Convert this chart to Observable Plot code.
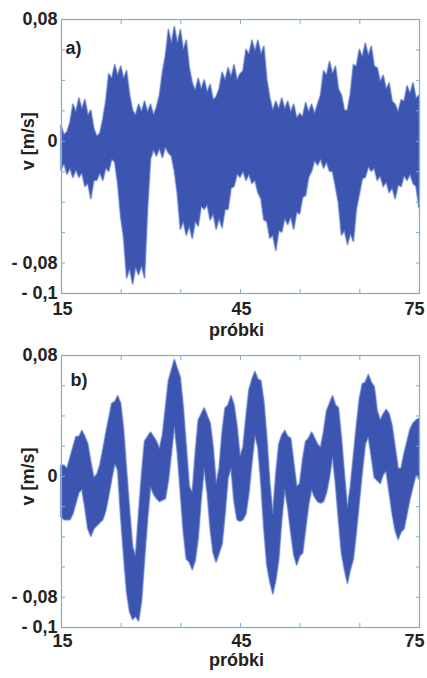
<!DOCTYPE html>
<html>
<head>
<meta charset="utf-8">
<script src="https://cdn.jsdelivr.net/npm/d3@7"></script>
<script src="https://cdn.jsdelivr.net/npm/@observablehq/plot@0.6"></script>
<style>
  body { margin: 0; background: #ffffff; }
  #chart svg { display: block; }
</style>
</head>
<body>
<div id="chart"></div>
<script>
// Sample index grid (half-sample resolution), shared by both panels
const samples = d3.range(15, 75.25, 0.5);

// Panel a) — raw velocity ensemble: upper and lower envelope of the traces [m/s]
const aHigh = [
  0.010, 0.004, 0.006, 0.012, 0.024, 0.019, 0.028, 0.021, 0.027, 0.017,
  0.020, 0.008, 0.003, 0.005, 0.014, 0.026, 0.044, 0.041, 0.050, 0.043,
  0.049, 0.041, 0.046, 0.030, 0.020, 0.017, 0.024, 0.019, 0.026, 0.019,
  0.024, 0.017, 0.022, 0.030, 0.045, 0.056, 0.073, 0.064, 0.075, 0.064,
  0.073, 0.060, 0.066, 0.048, 0.038, 0.033, 0.041, 0.034, 0.040, 0.032,
  0.037, 0.027, 0.029, 0.034, 0.045, 0.040, 0.048, 0.042, 0.050, 0.040,
  0.044, 0.046, 0.060, 0.057, 0.066, 0.059, 0.066, 0.057, 0.062, 0.040,
  0.028, 0.020, 0.026, 0.021, 0.028, 0.021, 0.026, 0.019, 0.024, 0.015,
  0.018, 0.016, 0.025, 0.019, 0.024, 0.018, 0.024, 0.030, 0.046, 0.043,
  0.052, 0.044, 0.049, 0.034, 0.030, 0.020, 0.020, 0.031, 0.050, 0.049,
  0.060, 0.055, 0.064, 0.056, 0.062, 0.049, 0.048, 0.039, 0.043, 0.034,
  0.038, 0.026, 0.024, 0.019, 0.027, 0.026, 0.036, 0.031, 0.038, 0.028,
  0.030
];
const aLow = [
  -0.019, -0.015, -0.022, -0.018, -0.024, -0.019, -0.024, -0.021, -0.030, -0.028,
  -0.038, -0.026, -0.026, -0.021, -0.026, -0.018, -0.020, -0.012, -0.014, -0.028,
  -0.050, -0.064, -0.090, -0.084, -0.094, -0.083, -0.088, -0.082, -0.090, -0.045,
  -0.012, -0.006, -0.010, -0.005, -0.011, -0.004, -0.008, -0.010, -0.020, -0.035,
  -0.058, -0.053, -0.062, -0.056, -0.064, -0.053, -0.056, -0.043, -0.045, -0.042,
  -0.052, -0.048, -0.058, -0.051, -0.057, -0.045, -0.045, -0.031, -0.030, -0.022,
  -0.024, -0.020, -0.026, -0.022, -0.028, -0.026, -0.034, -0.038, -0.052, -0.053,
  -0.064, -0.062, -0.072, -0.059, -0.060, -0.051, -0.055, -0.050, -0.058, -0.047,
  -0.048, -0.037, -0.036, -0.024, -0.020, -0.013, -0.016, -0.012, -0.018, -0.014,
  -0.020, -0.020, -0.030, -0.041, -0.062, -0.059, -0.068, -0.061, -0.066, -0.045,
  -0.035, -0.025, -0.024, -0.017, -0.020, -0.018, -0.026, -0.023, -0.030, -0.027,
  -0.034, -0.031, -0.038, -0.029, -0.030, -0.023, -0.026, -0.022, -0.028, -0.030,
  -0.044
];

// Panel b) — filtered velocity ensemble: upper and lower envelope [m/s]
const bHigh = [
  0.007, 0.007, 0.005, 0.012, 0.019, 0.026, 0.026, 0.030, 0.026, 0.021,
  0.009, -0.001, 0.001, 0.007, 0.017, 0.028, 0.038, 0.048, 0.049, 0.053,
  0.048, 0.030, 0.003, -0.023, -0.047, -0.053, -0.025, 0.001, 0.023, 0.026,
  0.029, 0.026, 0.023, 0.018, 0.027, 0.045, 0.063, 0.070, 0.077, 0.071,
  0.065, 0.045, 0.019, -0.007, -0.011, 0.015, 0.037, 0.041, 0.045, 0.040,
  0.035, 0.019, -0.005, 0.005, 0.029, 0.045, 0.047, 0.053, 0.047, 0.033,
  0.013, 0.019, 0.039, 0.057, 0.064, 0.069, 0.064, 0.063, 0.049, 0.025,
  -0.005, -0.025, 0.001, 0.021, 0.027, 0.030, 0.026, 0.025, 0.009, -0.007,
  -0.005, 0.011, 0.023, 0.025, 0.029, 0.025, 0.021, 0.019, 0.029, 0.043,
  0.048, 0.053, 0.047, 0.045, 0.025, 0.001, -0.021, -0.007, 0.013, 0.033,
  0.051, 0.061, 0.062, 0.067, 0.062, 0.059, 0.043, 0.037, 0.041, 0.044,
  0.041, 0.033, 0.019, 0.005, 0.005, 0.015, 0.023, 0.031, 0.035, 0.037,
  0.038
];
const bLow = [
  -0.027, -0.029, -0.029, -0.029, -0.025, -0.018, -0.011, -0.009, -0.021, -0.035,
  -0.040, -0.035, -0.033, -0.031, -0.029, -0.023, -0.013, -0.002, 0.008, 0.004,
  -0.027, -0.053, -0.077, -0.090, -0.095, -0.093, -0.096, -0.083, -0.055, -0.029,
  -0.007, -0.012, -0.015, -0.017, -0.016, -0.015, -0.003, 0.015, 0.033, 0.015,
  -0.011, -0.037, -0.055, -0.057, -0.062, -0.056, -0.041, -0.015, 0.005, -0.011,
  -0.035, -0.051, -0.057, -0.051, -0.045, -0.025, -0.001, 0.005, -0.017, -0.029,
  -0.030, -0.029, -0.025, -0.011, 0.009, 0.027, 0.019, -0.005, -0.035, -0.059,
  -0.070, -0.078, -0.069, -0.055, -0.029, -0.009, -0.021, -0.037, -0.052, -0.059,
  -0.053, -0.051, -0.035, -0.019, -0.009, -0.014, -0.017, -0.018, -0.017, -0.011,
  -0.001, 0.013, -0.005, -0.029, -0.051, -0.062, -0.071, -0.062, -0.055, -0.037,
  -0.017, 0.003, 0.021, 0.026, 0.013, -0.001, -0.003, -0.005, 0.001, 0.003,
  -0.011, -0.025, -0.036, -0.042, -0.037, -0.035, -0.025, -0.015, -0.007, 0.001,
  -0.002
];

// Axis ticks and labels
const xDomain = [15, 75];
const yDomain = [-0.1, 0.08];
const xTickMarks = [15, 25, 35, 45, 55, 65, 75];
const yTickMarks = [-0.1, -0.08, -0.06, -0.04, -0.02, 0, 0.02, 0.04, 0.06, 0.08];
const yTickValues = [0.08, 0, -0.08, -0.1];
const yTickLabels = ["0,08", "0", "- 0,08", "- 0,1"];
const xTitle = "próbki";
const yTitle = "v [m/s]";

const bandFill = "#3b55b0";
const bandEdge = "#5a75c4";
const bandHalo = "#8d9fd8";
const frameColor = "#7eaecd";
const inkColor = "#222222";

function panel({high, low, tag, height, marginTop, marginBottom, tagDx, tagDy, titleDy, labelPad}) {
  const rows = samples.map((s, i) => ({s, hi: high[i], lo: low[i]}));
  return Plot.plot({
    width: 427,
    height,
    marginTop,
    marginBottom,
    marginLeft: 61,
    marginRight: 8,
    x: {domain: xDomain, label: null},
    y: {domain: yDomain, label: null},
    style: {
      fontFamily: "'Liberation Sans', Arial, sans-serif",
      fontSize: "18px",
      fontWeight: "bold",
      color: inkColor,
      background: "#ffffff",
      overflow: "visible"
    },
    marks: [
      // soft fringe of the sparser outer traces
      Plot.areaY(rows, {x: "s", y1: "lo", y2: "hi", fill: "none", stroke: bandHalo,
        strokeWidth: 2.4, strokeOpacity: 0.45, curve: "linear"}),
      // ensemble band
      Plot.areaY(rows, {x: "s", y1: "lo", y2: "hi", fill: bandFill, stroke: bandEdge,
        strokeWidth: 1, strokeOpacity: 0.75, curve: "linear"}),
      Plot.frame({stroke: frameColor, strokeWidth: 1.2}),
      // inward tick marks on all four sides
      Plot.axisX({anchor: "bottom", ticks: xTickMarks, tickSize: -4, tickFormat: () => "", stroke: frameColor, label: null}),
      Plot.axisX({anchor: "top", ticks: xTickMarks, tickSize: -4, tickFormat: () => "", stroke: frameColor, label: null}),
      Plot.axisY({anchor: "left", ticks: yTickMarks, tickSize: -4, tickFormat: () => "", stroke: frameColor, label: null}),
      Plot.axisY({anchor: "right", ticks: yTickMarks, tickSize: -4, tickFormat: () => "", stroke: frameColor, label: null}),
      // tick labels
      Plot.axisY({anchor: "left", ticks: yTickValues, tickSize: 0, tickPadding: 4,
        tickFormat: (d) => yTickLabels[yTickValues.indexOf(d)], fill: inkColor, label: null}),
      Plot.axisX({anchor: "bottom", ticks: [15, 45], tickSize: 0, tickPadding: labelPad, dx: 1, fill: inkColor, label: null}),
      Plot.axisX({anchor: "bottom", ticks: [75], tickSize: 0, tickPadding: labelPad, dx: -5, fill: inkColor, label: null}),
      // axis titles
      Plot.text([0], {y: (d) => d, frameAnchor: "left", text: () => yTitle, rotate: -90,
        dx: -33, textAnchor: "middle", fill: inkColor}),
      Plot.text([xTitle], {frameAnchor: "bottom", dy: titleDy, dx: -4, fill: inkColor}),
      // panel tag
      Plot.text([tag], {frameAnchor: "top-left", dx: tagDx, dy: tagDy, textAnchor: "start", fill: inkColor})
    ]
  });
}

const chart = document.getElementById("chart");
chart.append(panel({high: aHigh, low: aLow, tag: "a)", height: 346, marginTop: 19, marginBottom: 53,
  tagDx: 4, tagDy: 22, titleDy: 42, labelPad: 9}));
chart.append(panel({high: bHigh, low: bLow, tag: "b)", height: 332, marginTop: 9, marginBottom: 51,
  tagDx: 9, tagDy: 18, titleDy: 38, labelPad: 7}));
</script>
</body>
</html>
